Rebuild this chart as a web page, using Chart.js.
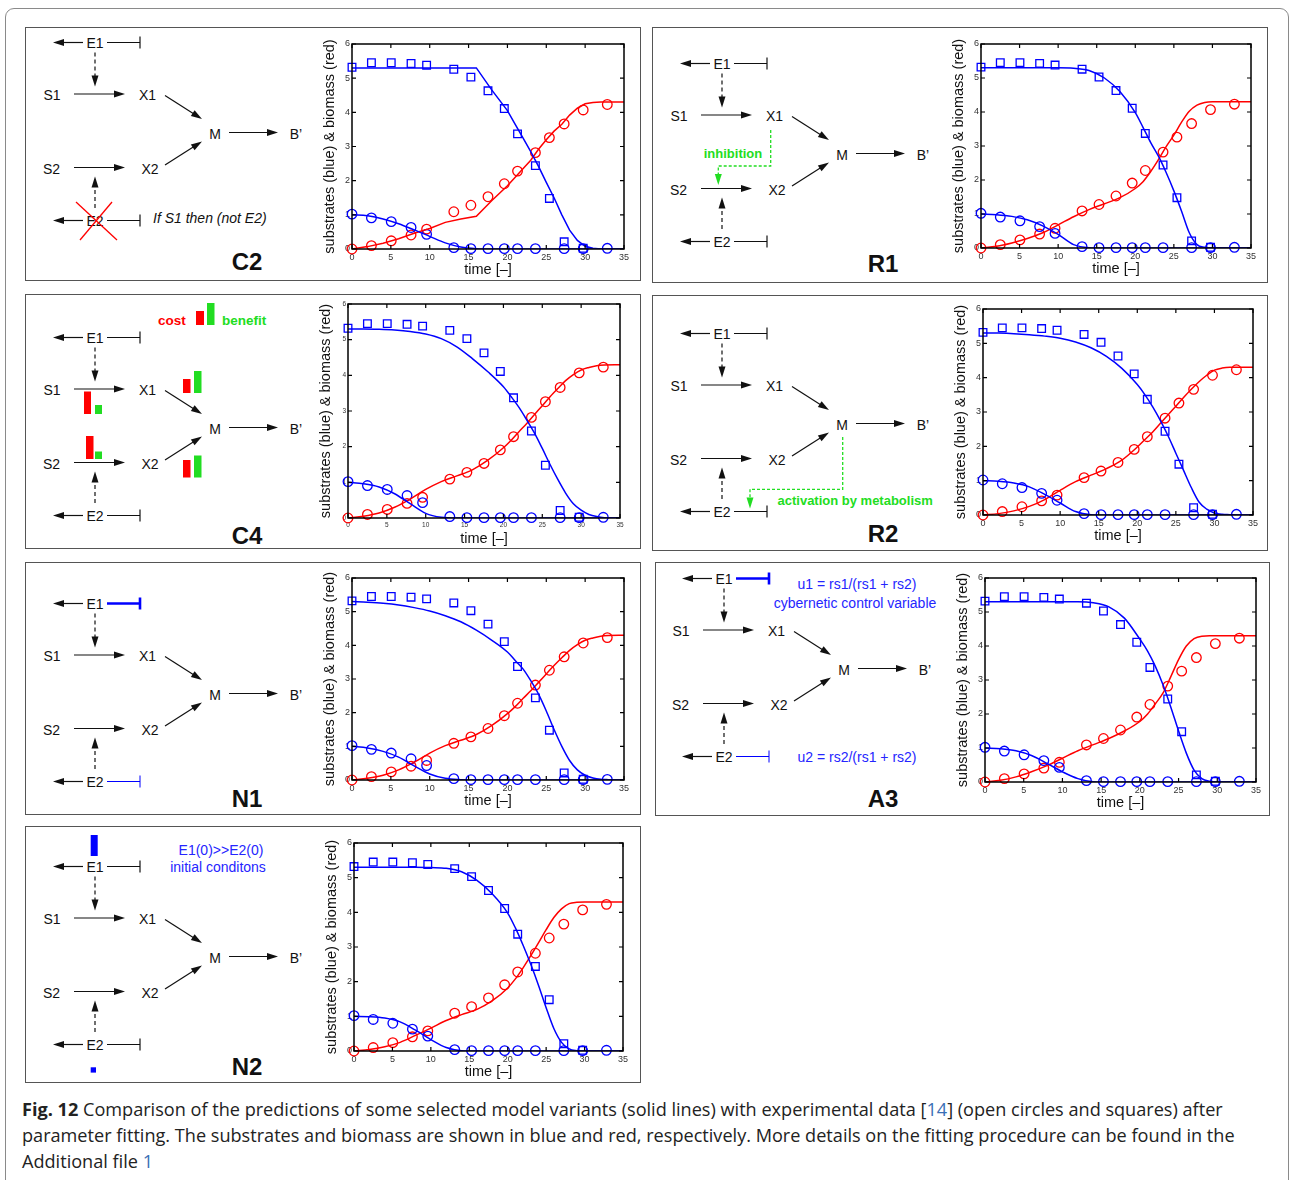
<!DOCTYPE html>
<html>
<head>
<meta charset="utf-8">
<script src="https://cdn.jsdelivr.net/npm/chart.js@4.4.0/dist/chart.umd.min.js"></script>
<style>
  body { margin: 0; background: #fff; width: 1289px; height: 1180px; overflow: hidden; position: relative;
         font-family: "Liberation Sans", Arial, sans-serif; }
  #frame { position: absolute; left: 5px; top: 8px; width: 1282px; height: 1240px;
           border: 1.5px solid #8a8a8a; border-radius: 9px; }
  .panel { position: absolute; border: 1.5px solid #555; box-sizing: border-box; }
  .plot { position: absolute; }
  #diag { position: absolute; left: 0; top: 0; }
  #caption { position: absolute; left: 22px; top: 1096px; font-family: "Open Sans", sans-serif;
             font-size: 17px; line-height: 26px; color: #222; white-space: nowrap; }
  #caption .ln { display: block; }
  #caption .link { color: #3a6fb5; }
</style>
</head>
<body>
<div id="frame"></div>
<div id="panels"></div>
<svg id="diag" width="1289" height="1180"></svg>
<div id="caption">
  <span class="ln" id="cap1"><b>Fig. 12</b> Comparison of the predictions of some selected model variants (solid lines) with experimental data [<span class="link">14</span>] (open circles and squares) after</span>
  <span class="ln" id="cap2">parameter fitting. The substrates and biomass are shown in blue and red, respectively. More details on the fitting procedure can be found in the</span>
  <span class="ln" id="cap3">Additional file <span class="link">1</span></span>
</div>
<script>
// experimental data (same in every panel)
var expTime = [0, 2.5, 5.05, 7.6, 9.6, 13.1, 15.3, 17.5, 19.6, 21.3, 23.6, 25.4, 27.3, 29.75, 32.85];
var expSubstrate1 = [5.32, 5.45, 5.45, 5.43, 5.38, 5.26, 5.03, 4.63, 4.11, 3.37, 2.44, 1.48, 0.21, 0.02, null];
var expSubstrate2 = [1.02, 0.91, 0.80, 0.63, 0.43, 0.04, 0.01, 0.01, 0.01, 0.01, 0.01, null, 0.01, 0.01, 0.02];
var expBiomass = [0.0, 0.1, 0.24, 0.41, 0.58, 1.09, 1.28, 1.53, 1.91, 2.28, 2.82, 3.26, 3.66, 4.07, 4.23];

// model curves
var modelTime = [0, 2, 4, 6, 8, 10, 12, 14, 16, 18, 20, 21, 22, 23, 24, 25, 26, 27, 28, 29, 30, 31, 32, 33, 35];

var c2S1 = [5.3, 5.3, 5.3, 5.3, 5.3, 5.3, 5.3, 5.3, 5.3, 4.65, 4.05, 3.65, 3.25, 2.85, 2.42, 1.95, 1.5, 1.0, 0.55, 0.25, 0.08, 0.02, 0, 0, 0];
var c2S2 = [1.0, 0.97, 0.88, 0.74, 0.56, 0.37, 0.18, 0.06, 0.01, 0, 0, 0, 0, 0, 0, 0, 0, 0, 0, 0, 0, 0, 0, 0, 0];
var c2X  = [0, 0.07, 0.17, 0.3, 0.46, 0.6, 0.78, 0.88, 0.96, 1.42, 1.85, 2.1, 2.35, 2.6, 2.92, 3.2, 3.45, 3.65, 3.92, 4.12, 4.25, 4.29, 4.3, 4.3, 4.3];

var r1S1 = [5.3, 5.3, 5.3, 5.3, 5.3, 5.3, 5.29, 5.22, 5.0, 4.6, 3.98, 3.55, 3.1, 2.7, 2.22, 1.68, 1.08, 0.45, 0.1, 0.02, 0, 0, 0, 0, 0];
var r1S2 = [1.0, 0.98, 0.93, 0.83, 0.65, 0.4, 0.1, 0.01, 0, 0, 0, 0, 0, 0, 0, 0, 0, 0, 0, 0, 0, 0, 0, 0, 0];
var r1X  = [0, 0.05, 0.15, 0.28, 0.45, 0.68, 0.92, 1.13, 1.3, 1.48, 1.75, 1.95, 2.25, 2.6, 2.98, 3.32, 3.7, 4.02, 4.2, 4.28, 4.3, 4.3, 4.3, 4.3, 4.3];

var c4S1 = [5.3, 5.3, 5.29, 5.27, 5.23, 5.16, 5.03, 4.8, 4.47, 4.1, 3.68, 3.4, 3.1, 2.75, 2.38, 1.95, 1.5, 1.08, 0.7, 0.4, 0.22, 0.1, 0.04, 0.01, 0];
var c4S2 = [1.0, 0.96, 0.87, 0.68, 0.4, 0.13, 0.02, 0, 0, 0, 0, 0, 0, 0, 0, 0, 0, 0, 0, 0, 0, 0, 0, 0, 0];
var c4X  = [0, 0.05, 0.14, 0.3, 0.53, 0.8, 1.02, 1.18, 1.35, 1.62, 1.97, 2.18, 2.42, 2.65, 2.9, 3.15, 3.4, 3.63, 3.85, 4.02, 4.15, 4.22, 4.27, 4.29, 4.3];

var r2S1 = [5.3, 5.3, 5.28, 5.25, 5.21, 5.15, 5.04, 4.87, 4.62, 4.27, 3.8, 3.5, 3.15, 2.75, 2.3, 1.8, 1.3, 0.8, 0.38, 0.17, 0.06, 0.02, 0.01, 0, 0];
var r2S2 = [1.0, 0.98, 0.93, 0.82, 0.6, 0.35, 0.1, 0.01, 0, 0, 0, 0, 0, 0, 0, 0, 0, 0, 0, 0, 0, 0, 0, 0, 0];
var r2X  = [0, 0.04, 0.12, 0.25, 0.45, 0.72, 0.97, 1.16, 1.35, 1.6, 1.98, 2.2, 2.42, 2.67, 2.92, 3.17, 3.42, 3.66, 3.88, 4.07, 4.22, 4.28, 4.3, 4.3, 4.3];

var n1S1 = [5.3, 5.28, 5.25, 5.2, 5.12, 5.02, 4.88, 4.7, 4.45, 4.15, 3.8, 3.55, 3.3, 2.95, 2.55, 2.05, 1.5, 1.0, 0.58, 0.3, 0.14, 0.06, 0.02, 0.01, 0];
var n1S2 = [1.0, 0.95, 0.85, 0.68, 0.42, 0.18, 0.05, 0.01, 0, 0, 0, 0, 0, 0, 0, 0, 0, 0, 0, 0, 0, 0, 0, 0, 0];
var n1X  = [0, 0.05, 0.14, 0.3, 0.53, 0.8, 1.02, 1.18, 1.35, 1.62, 1.97, 2.18, 2.42, 2.65, 2.9, 3.15, 3.4, 3.63, 3.85, 4.02, 4.15, 4.22, 4.27, 4.29, 4.3];

var a3S1 = [5.3, 5.3, 5.3, 5.3, 5.3, 5.3, 5.3, 5.27, 5.15, 4.82, 4.2, 3.85, 3.4, 2.85, 2.2, 1.5, 0.85, 0.35, 0.1, 0.02, 0, 0, 0, 0, 0];
var a3S2 = [1.0, 0.98, 0.92, 0.78, 0.55, 0.3, 0.1, 0.01, 0, 0, 0, 0, 0, 0, 0, 0, 0, 0, 0, 0, 0, 0, 0, 0, 0];
var a3X  = [0, 0.05, 0.15, 0.3, 0.48, 0.7, 0.92, 1.1, 1.28, 1.5, 1.78, 2.0, 2.3, 2.62, 3.1, 3.6, 4.0, 4.22, 4.29, 4.3, 4.3, 4.3, 4.3, 4.3, 4.3];

var n2S1 = [5.3, 5.3, 5.3, 5.3, 5.3, 5.29, 5.27, 5.17, 4.92, 4.53, 3.98, 3.55, 3.05, 2.5, 1.9, 1.25, 0.65, 0.25, 0.06, 0.01, 0, 0, 0, 0, 0];
var n2S2 = [1.0, 0.99, 0.95, 0.84, 0.6, 0.33, 0.1, 0.01, 0, 0, 0, 0, 0, 0, 0, 0, 0, 0, 0, 0, 0, 0, 0, 0, 0];
var n2X  = [0, 0.04, 0.12, 0.25, 0.45, 0.66, 0.88, 1.05, 1.2, 1.45, 1.82, 2.08, 2.4, 2.75, 3.12, 3.5, 3.85, 4.1, 4.25, 4.29, 4.3, 4.3, 4.3, 4.3, 4.3];

var xTicks = [0, 5, 10, 15, 20, 25, 30, 35];
var yTicks = [0, 1, 2, 3, 4, 5, 6];

var BLUE = "#0000ff", RED = "#ff0000";
var FONT = "'Liberation Sans', Arial, sans-serif";

// panel layout: box = [left, top, width, height], plot = [left, top, right, bottom]
var panels = [
    { name: "C2", s1: c2S1, s2: c2S2, x: c2X, kink: true,
      box: [25, 27, 616, 254], plot: [352, 44, 624, 249], label: [247, 261], e1: [95, 42.5], tick: 9 },
    { name: "R1", s1: r1S1, s2: r1S2, x: r1X,
      box: [652, 27, 616, 256], plot: [981, 44, 1251, 248], label: [883, 263], e1: [722, 63.5], tick: 9 },
    { name: "C4", s1: c4S1, s2: c4S2, x: c4X,
      box: [25, 294, 616, 255], plot: [348, 304, 620, 518], label: [247, 535], e1: [95, 337.5], tick: 6.5 },
    { name: "R2", s1: r2S1, s2: r2S2, x: r2X,
      box: [652, 295, 616, 256], plot: [983, 309, 1253, 515], label: [883, 533], e1: [722, 333.5], tick: 9 },
    { name: "N1", s1: n1S1, s2: n1S2, x: n1X,
      box: [25, 562, 616, 253], plot: [352, 578, 624, 780], label: [247, 798], e1: [95, 603.5], tick: 9 },
    { name: "A3", s1: a3S1, s2: a3S2, x: a3X,
      box: [655, 562, 615, 254], plot: [985, 578, 1256, 782], label: [883, 798], e1: [724, 578.5], tick: 9 },
    { name: "N2", s1: n2S1, s2: n2S2, x: n2X,
      box: [25, 826, 616, 257], plot: [354, 843, 623, 1051], label: [247, 1066], e1: [95, 866.5], tick: 9 }
];

// matlab style box with inward ticks
var boxPlugin = {
    id: "matBox",
    afterDraw: function(chart) {
        var ctx = chart.ctx, a = chart.chartArea;
        var xs = chart.scales.x, ys = chart.scales.y;
        ctx.save();
        ctx.strokeStyle = "#000";
        ctx.lineWidth = 1.2;
        ctx.beginPath();
        xTicks.forEach(function(v) {
            var px = xs.getPixelForValue(v);
            ctx.moveTo(px, a.bottom); ctx.lineTo(px, a.bottom - 4);
            ctx.moveTo(px, a.top); ctx.lineTo(px, a.top + 4);
        });
        yTicks.forEach(function(v) {
            var py = ys.getPixelForValue(v);
            ctx.moveTo(a.left, py); ctx.lineTo(a.left + 4, py);
            ctx.moveTo(a.right, py); ctx.lineTo(a.right - 4, py);
        });
        ctx.stroke();
        ctx.lineWidth = 1.5;
        ctx.strokeRect(a.left, a.top, a.right - a.left, a.bottom - a.top);
        ctx.restore();
    }
};

function curve(ys, color, straight) {
    return {
        data: modelTime.map(function(t, i) { return { x: t, y: ys[i] }; }),
        showLine: true, borderColor: color, borderWidth: 1.5, pointRadius: 0,
        cubicInterpolationMode: straight ? "default" : "monotone", tension: 0, order: 1
    };
}

function marks(ys, style, color, r) {
    var pts = [];
    expTime.forEach(function(t, i) { if (ys[i] !== null) pts.push({ x: t, y: ys[i] }); });
    return {
        data: pts, showLine: false, pointStyle: style, pointRadius: r,
        pointBorderColor: color, pointBorderWidth: 1.3, pointBackgroundColor: "rgba(0,0,0,0)",
        clip: false, order: 2
    };
}

function makeChart(p) {
    var padL = 32, padB = 30, padT = 8, padR = 9;
    var L = p.plot[0], T = p.plot[1], R = p.plot[2], B = p.plot[3];
    var cv = document.createElement("canvas");
    cv.className = "plot";
    cv.width = R - L + padL + padR;
    cv.height = B - T + padT + padB;
    cv.style.left = (L - padL) + "px";
    cv.style.top = (T - padT) + "px";
    document.body.appendChild(cv);

    new Chart(cv.getContext("2d"), {
        type: "scatter",
        data: {
            datasets: [
                marks(expSubstrate1, "rect", BLUE, 5.4),
                marks(expSubstrate2, "circle", BLUE, 4.8),
                marks(expBiomass, "circle", RED, 4.8),
                curve(p.s1, BLUE, p.kink),
                curve(p.s2, BLUE, false),
                curve(p.x, RED, p.kink)
            ]
        },
        options: {
            responsive: false,
            animation: false,
            devicePixelRatio: 1,
            layout: { padding: { top: padT, right: padR, left: 0, bottom: 0 } },
            plugins: { legend: { display: false }, tooltip: { enabled: false } },
            scales: {
                x: {
                    type: "linear", min: 0, max: 35,
                    afterBuildTicks: function(s) { s.ticks = xTicks.map(function(v) { return { value: v }; }); },
                    afterFit: function(s) { s.height = padB; },
                    grid: { display: false, drawTicks: false }, border: { display: false },
                    ticks: { font: { size: p.tick, family: FONT }, color: "#333", padding: 3, maxRotation: 0 },
                    title: { display: true, text: "time [–]", font: { size: 14.5, family: FONT }, color: "#111",
                             padding: { top: 0, bottom: 0 } }
                },
                y: {
                    type: "linear", min: 0, max: 6,
                    afterBuildTicks: function(s) { s.ticks = yTicks.map(function(v) { return { value: v }; }); },
                    afterFit: function(s) { s.width = padL; },
                    grid: { display: false, drawTicks: false }, border: { display: false },
                    ticks: { font: { size: p.tick, family: FONT }, color: "#333", padding: 2 },
                    title: { display: true, text: "substrates (blue) & biomass (red)",
                             font: { size: 14.5, family: FONT }, color: "#111", padding: { top: 1, bottom: 0 } }
                }
            }
        },
        plugins: [boxPlugin]
    });
}

// ---- diagrams ----
function head(x1, y1, x2, y2, color) {
    var a = Math.atan2(y2 - y1, x2 - x1), c = Math.cos(a), s = Math.sin(a);
    var len = 11, hw = 3.5;
    var bx = x2 - len * c, by = y2 - len * s;
    return '<polygon points="' + x2 + ',' + y2 + ' ' + (bx - hw * s) + ',' + (by + hw * c) + ' ' +
        (bx + hw * s) + ',' + (by - hw * c) + '" fill="' + color + '"/>';
}
function seg(x1, y1, x2, y2, color, w, dash) {
    return '<line x1="' + x1 + '" y1="' + y1 + '" x2="' + x2 + '" y2="' + y2 + '" stroke="' + color +
        '" stroke-width="' + w + '"' + (dash ? ' stroke-dasharray="' + dash + '"' : '') + '/>';
}
function arrow(x1, y1, x2, y2, o) {
    o = o || {};
    var color = o.color || "#111";
    var a = Math.atan2(y2 - y1, x2 - x1);
    return seg(x1, y1, x2 - 9 * Math.cos(a), y2 - 9 * Math.sin(a), color, o.w || 1.2, o.dash) + head(x1, y1, x2, y2, color);
}
function txt(x, y, s, o) {
    o = o || {};
    return '<text x="' + x + '" y="' + y + '" text-anchor="' + (o.anchor || "middle") +
        '" dominant-baseline="central" font-size="' + (o.size || 14) + '" fill="' + (o.color || "#111") + '"' +
        (o.bold ? ' font-weight="bold"' : '') + (o.italic ? ' font-style="italic"' : '') +
        ' font-family="Liberation Sans, Arial, sans-serif">' + s + '</text>';
}
function enzyme(x, y, name, inh) {
    inh = inh || {};
    var c = inh.color || "#111", w = inh.w || 1.2;
    return txt(x, y, name) + arrow(x - 12, y, x - 42, y) + seg(x + 12, y, x + 45, y, c, w) +
        seg(x + 45, y - 6, x + 45, y + 6, c, w);
}
function net(ex, ey, o) {
    o = o || {};
    var s = "";
    s += enzyme(ex, ey, "E1", o.i1);
    s += enzyme(ex, ey + 178, "E2", o.i2);
    s += arrow(ex, ey + 10, ex, ey + 44, { dash: "4 3" });
    s += txt(ex - 43, ey + 52.5, "S1") + arrow(ex - 21, ey + 51.5, ex + 30, ey + 51.5);
    s += txt(ex + 52.5, ey + 52.5, "X1") + arrow(ex + 70, ey + 53, ex + 107, ey + 76.5);
    s += txt(ex + 120, ey + 91, "M") + arrow(ex + 134, ey + 90, ex + 183, ey + 90);
    s += txt(ex + 201, ey + 91, "B’");
    s += txt(ex - 43.5, ey + 126, "S2") + arrow(ex - 21, ey + 125, ex + 30, ey + 125);
    s += txt(ex + 55, ey + 126, "X2") + arrow(ex + 70, ey + 122.5, ex + 107, ey + 99);
    s += arrow(ex, ey + 165.5, ex, ey + 134, { dash: "4 3" });
    return s;
}
function rect(x, y, w, h, color) {
    return '<rect x="' + x + '" y="' + y + '" width="' + w + '" height="' + h + '" fill="' + color + '"/>';
}

var GREEN = "#22dd22", TBLUE = "#2525ff";
var svg = "";
var box = document.getElementById("panels");
panels.forEach(function(p) {
    var d = document.createElement("div");
    d.className = "panel";
    d.style.left = p.box[0] + "px"; d.style.top = p.box[1] + "px";
    d.style.width = p.box[2] + "px"; d.style.height = p.box[3] + "px";
    box.appendChild(d);
    var o = {};
    if (p.name === "N1") o = { i1: { color: BLUE, w: 2.6 }, i2: { color: BLUE, w: 1 } };
    if (p.name === "A3") o = { i1: { color: BLUE, w: 2.6 }, i2: { color: BLUE, w: 1 } };
    svg += net(p.e1[0], p.e1[1], o);
    svg += txt(p.label[0], p.label[1], p.name, { size: 24, bold: true });
    makeChart(p);
});

// C2 extras
svg += seg(76, 202, 117, 240, RED, 1.3) + seg(80, 240, 112, 202, RED, 1.3);
svg += txt(153, 218, "If S1 then (not E2)", { anchor: "start", italic: true });
// R1 extras
svg += '<polyline points="770.7,130 770.7,166 718.3,166 718.3,176" fill="none" stroke="' + GREEN +
    '" stroke-width="1.3" stroke-dasharray="3 2"/>' + head(718.3, 170, 718.3, 185, GREEN);
svg += txt(733, 153, "inhibition", { size: 13, bold: true, color: GREEN });
// R2 extras
svg += '<polyline points="842.7,437 842.7,489.3 750,489.3 750,499" fill="none" stroke="' + GREEN +
    '" stroke-width="1.3" stroke-dasharray="3 2"/>' + head(750, 494, 750, 508.5, GREEN);
svg += txt(777.5, 500.5, "activation by metabolism", { anchor: "start", size: 13, bold: true, color: GREEN });
// C4 extras
svg += txt(172, 320, "cost", { size: 13.5, bold: true, color: RED }) + rect(196, 311, 8, 14, RED) + rect(207, 303, 7.5, 22, GREEN) +
    txt(222, 320, "benefit", { anchor: "start", size: 13.5, bold: true, color: GREEN });
svg += rect(84, 391.5, 7, 22.5, RED) + rect(95, 405, 7, 9, GREEN);
svg += rect(183, 379, 7.5, 14, RED) + rect(194, 371, 7.5, 22, GREEN);
svg += rect(86, 436, 7.5, 23, RED) + rect(95, 451.5, 7, 7.5, GREEN);
svg += rect(183, 460, 7.5, 17.5, RED) + rect(194, 455.5, 7.5, 22, GREEN);
// A3 extras
svg += txt(857, 584, "u1 = rs1/(rs1 + rs2)", { color: TBLUE }) + txt(855, 602.5, "cybernetic control variable", { color: TBLUE });
svg += txt(857, 756.5, "u2 = rs2/(rs1 + rs2)", { color: TBLUE });
// N2 extras
svg += rect(90.7, 835, 7, 21, BLUE) + rect(90.7, 1067.3, 5.3, 5.3, BLUE);
svg += txt(221, 849.5, "E1(0)&gt;&gt;E2(0)", { color: TBLUE }) + txt(218, 866.5, "initial conditons", { color: TBLUE });

document.getElementById("diag").innerHTML = svg;

// fit caption lines to the printed width
var cap1 = document.getElementById("cap1");
var w1 = cap1.getBoundingClientRect().width;
var fs = 17 * 1213 / w1;
document.getElementById("caption").style.fontSize = fs.toFixed(2) + "px";
</script>
</body>
</html>
